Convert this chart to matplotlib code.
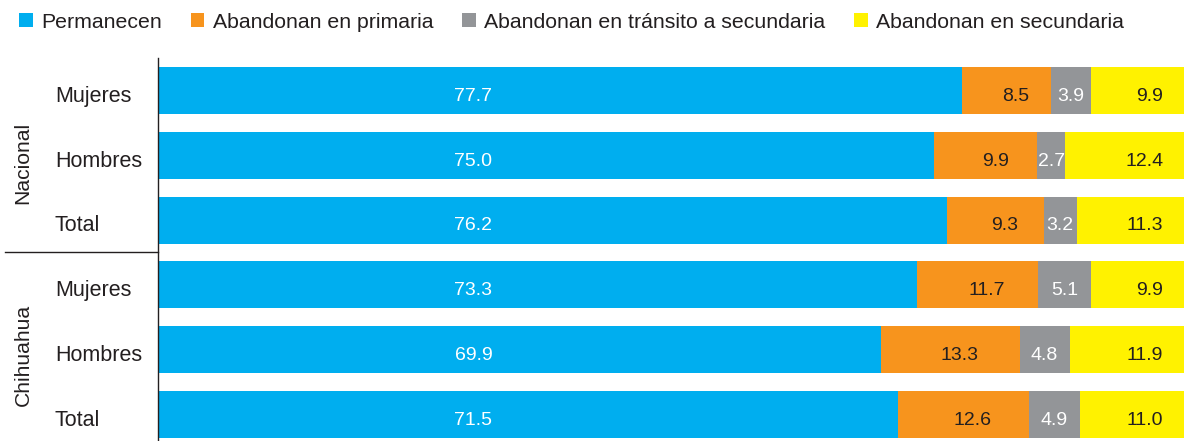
import numpy as np
import matplotlib.pyplot as plt
from matplotlib.transforms import blended_transform_factory

plt.rcParams['font.family'] = ['Liberation Sans', 'DejaVu Sans']

# Data
groups = ['Nacional', 'Chihuahua']
rows = ['Mujeres', 'Hombres', 'Total', 'Mujeres', 'Hombres', 'Total']
series = ['Permanecen', 'Abandonan en primaria',
          'Abandonan en tránsito a secundaria', 'Abandonan en secundaria']
permanecen = [77.7, 75.0, 76.2, 73.3, 69.9, 71.5]
primaria = [8.5, 9.9, 9.3, 11.7, 13.3, 12.6]
transito = [3.9, 2.7, 3.2, 5.1, 4.8, 4.9]
secundaria = [9.9, 12.4, 11.3, 9.9, 11.9, 11.0]

colors = ['#00aeef', '#f7941d', '#939598', '#fff200']
text_dark = '#231f20'

fig = plt.figure(figsize=(11.84, 4.41), dpi=100)
ax = fig.add_axes([158 / 1184, 0, 1026 / 1184, 383 / 441])

y = np.arange(len(rows))
values = [permanecen, primaria, transito, secundaria]
left = np.zeros(len(rows))
for vals, col, name in zip(values, colors, series):
    ax.barh(y, vals, left=left, height=0.725, color=col, label=name)
    left += np.array(vals)

# value labels (text sits a little below the bar centre, as in the source)
dy = 0.09
for i in y:
    ax.text(30.7, i + dy, f'{permanecen[i]:.1f}', ha='center', va='center',
            color='white', fontsize=14)
    start = permanecen[i]
    ax.text(start + primaria[i] / 2 + 0.9, i + dy, f'{primaria[i]:.1f}',
            ha='center', va='center', color=text_dark, fontsize=14)
    start += primaria[i]
    ax.text(start + transito[i] / 2, i + dy, f'{transito[i]:.1f}', ha='center',
            va='center', color='white', fontsize=14)
    ax.text(97.0, i + dy, f'{secundaria[i]:.1f}', ha='right', va='center',
            color=text_dark, fontsize=14)

ax.set_xlim(0.38, 99.0)
ax.set_ylim(5.41, -0.5)
ax.set_xticks([])
ax.set_yticks([])
for s in ['top', 'right', 'bottom']:
    ax.spines[s].set_visible(False)
ax.spines['left'].set_color('#231f20')
ax.spines['left'].set_linewidth(1.0)

# row and group labels
trans = blended_transform_factory(ax.transAxes, ax.transData)
for i, r in enumerate(rows):
    ax.text(-0.1004, i + dy, r, transform=trans, ha='left', va='center',
            fontsize=15.5, color=text_dark)
ax.text(-0.1316, 1.12, groups[0], transform=trans, rotation=90,
        ha='center', va='center', fontsize=15.2, color=text_dark)
ax.text(-0.1316, 4.08, groups[1], transform=trans, rotation=90,
        ha='center', va='center', fontsize=15.2, color=text_dark)
ax.plot([-0.149, 0], [2.5, 2.5], transform=trans, color='#231f20',
        lw=1.0, clip_on=False)

leg = fig.legend(loc='upper left', bbox_to_anchor=(6 / 1184, 1.0), ncol=4,
                 frameon=False, fontsize=15.3, handlelength=0.65,
                 handleheight=0.65, handletextpad=0.4, columnspacing=1.35,
                 borderaxespad=0.2)
for t in leg.get_texts():
    t.set_color(text_dark)

fig.savefig('out.png', dpi=100)
